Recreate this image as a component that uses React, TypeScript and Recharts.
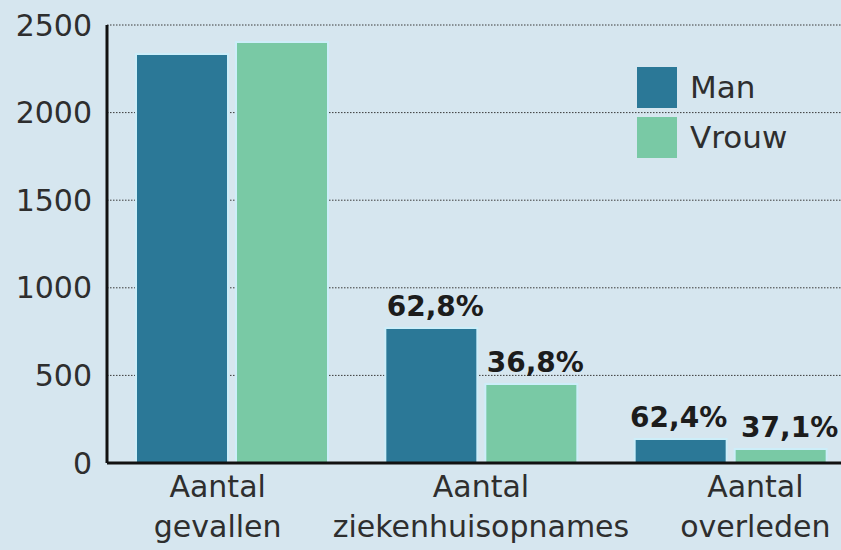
import { BarChart, Bar, XAxis, YAxis, CartesianGrid, Legend, LabelList } from "recharts";

const categories = ["Aantal gevallen", "Aantal ziekenhuisopnames", "Aantal overleden"];
const manValues = [2334, 771, 137];
const vrouwValues = [2403, 451, 80];
const manPct = ["", "62,8%", "62,4%"];
const vrouwPct = ["", "36,8%", "37,1%"];
const yTicks = [0, 500, 1000, 1500, 2000, 2500];

const data = categories.map((name, i) => ({
  name,
  man: manValues[i],
  vrouw: vrouwValues[i],
  manPct: manPct[i],
  vrouwPct: vrouwPct[i],
}));

const FONT = "'DejaVu Sans', sans-serif";
const BG = "#d6e6ef";
const MAN = "#2b7897";
const VROUW = "#79c9a5";
const TEXT = "#2e2e2e";

// the category labels in the original are not quite centred under their groups
const labelShift = [-14, 0, 25];

function CategoryTick(props: any) {
  const { x, y, payload, index } = props;
  const [first, ...rest] = String(payload.value).split(" ");
  const cx = x + (labelShift[index] ?? 0);
  return (
    <g>
      <text x={cx} y={y + 26} textAnchor="middle" fontFamily={FONT} fontSize={30} fill={TEXT}>
        {first}
      </text>
      <text x={cx} y={y + 66} textAnchor="middle" fontFamily={FONT} fontSize={30} fill={TEXT}>
        {rest.join(" ")}
      </text>
    </g>
  );
}

function PctLabel(props: any) {
  const { x, y, width, value, index } = props;
  if (!value) return null;
  // small nudge so the two labels of the last group do not run into each other
  const dx = value === "37,1%" ? 9 : value === "62,4%" ? -2 : 4;
  return (
    <text
      x={Number(x) + Number(width) / 2 + dx}
      y={Number(y) - 12}
      textAnchor="middle"
      fontFamily={FONT}
      fontWeight="bold"
      fontSize={28}
      fill="#1c1c1c"
      data-i={index}
    >
      {value}
    </text>
  );
}

function LegendBox({ payload }: any) {
  return (
    <div style={{ fontFamily: FONT }}>
      {(payload || []).map((entry: any, i: number) => (
        <div key={i} style={{ display: "flex", alignItems: "center", height: 41, marginBottom: 9 }}>
          <div style={{ width: 40, height: 41, background: entry.color }} />
          <span style={{ marginLeft: 13, fontSize: 31, color: TEXT, lineHeight: "41px" }}>{entry.value}</span>
        </div>
      ))}
    </div>
  );
}

export default function App() {
  return (
    <div
      style={{
        position: "fixed",
        top: 0,
        left: 0,
        width: 841,
        height: 550,
        overflow: "hidden",
        background: BG,
      }}
    >
      <BarChart
        width={855}
        height={550}
        data={data}
        margin={{ top: 25, right: 0, left: 0, bottom: 0 }}
        barSize={92}
        barGap={8}
      >
        <CartesianGrid vertical={false} stroke="#3a3a3a" strokeDasharray="1.5 1.5" />
        <XAxis
          dataKey="name"
          height={87}
          axisLine={{ stroke: "#111", strokeWidth: 3 }}
          tickLine={false}
          tick={<CategoryTick />}
          interval={0}
        />
        <YAxis
          width={107}
          domain={[0, 2500]}
          ticks={yTicks}
          axisLine={{ stroke: "#111", strokeWidth: 3 }}
          tickLine={false}
          tickSize={0}
          tickMargin={15}
          tick={{ fontFamily: FONT, fontSize: 30, fill: TEXT }}
        />
        <Legend
          layout="vertical"
          align="center"
          verticalAlign="middle"
          wrapperStyle={{ left: 637, top: 67, width: 200 }}
          content={<LegendBox />}
        />
        <Bar dataKey="man" name="Man" fill={MAN} stroke="#cdeef9" strokeWidth={2} isAnimationActive={false}>
          <LabelList dataKey="manPct" content={<PctLabel />} />
        </Bar>
        <Bar dataKey="vrouw" name="Vrouw" fill={VROUW} stroke="#cdeef9" strokeWidth={2} isAnimationActive={false}>
          <LabelList dataKey="vrouwPct" content={<PctLabel />} />
        </Bar>
      </BarChart>
    </div>
  );
}
